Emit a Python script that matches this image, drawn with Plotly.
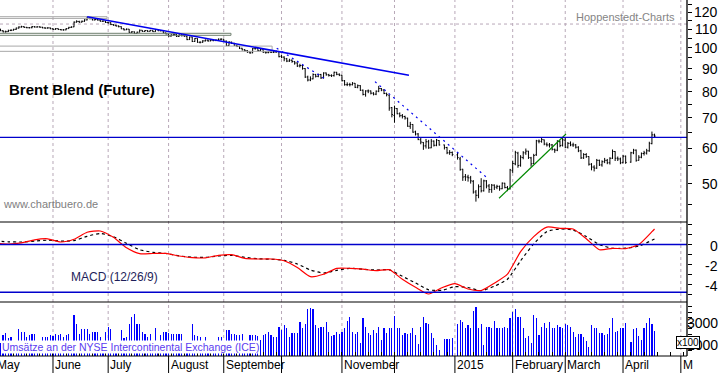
import math
import pandas as pd
import plotly.graph_objects as go

# ---------------- data ----------------
holidays = ["2014-12-25", "2015-01-01", "2015-04-03"]
weekdays = pd.bdate_range("2014-05-01", "2015-04-17")
dates = [d for d in weekdays if d.strftime("%Y-%m-%d") not in holidays]

open_ = [
    # May
    109.8, 109.5, 110.0, 109.1, 108.5, 108.6, 109.3, 109.4, 109.9, 110.6, 111.2, 111.4, 111.0, 110.8, 110.8, 111.4, 111.2, 111.3, 111.1, 110.7, 110.6, 110.7,
    # Jun
    110.2, 109.9, 110.3, 109.8, 109.6, 109.6, 110.3, 111.0, 111.3, 114.0, 114.4, 114.0, 114.5, 115.3, 116.4, 116.0, 115.3, 115.6, 115.2, 114.5, 114.6,
    # Jul
    113.8, 113.7, 112.6, 112.2, 111.8, 111.4, 110.2, 109.6, 110.0, 108.2, 108.5, 107.6, 108.3, 109.4, 108.7, 109.2, 108.8, 109.3, 108.6, 109.8, 109.1, 109.1, 107.9,
    # Aug
    107.3, 106.2, 106.8, 107.0, 106.0, 106.8, 106.4, 106.1, 104.3, 105.7, 103.3, 104.9, 102.9, 102.9, 103.6, 104.0, 103.6, 104.0, 103.8, 104.0, 104.5,
    # Sep
    104.5, 103.5, 101.2, 103.0, 102.3, 101.3, 100.8, 99.8, 99.0, 98.6, 97.9, 97.5, 99.6, 99.7, 98.6, 99.3, 97.8, 97.6, 97.9, 97.8, 97.9, 98.2,
    # Oct
    95.8, 95.4, 94.6, 93.5, 93.9, 93.3, 92.6, 91.2, 91.4, 90.0, 86.2, 84.9, 85.4, 87.3, 86.5, 87.3, 85.8, 88.0, 87.2, 86.9, 86.8, 88.3, 87.4,
    # Nov
    87.0, 84.6, 82.9, 83.0, 82.9, 83.5, 81.8, 82.5, 80.6, 78.9, 80.3, 80.3, 79.4, 79.0, 80.2, 81.3, 80.7, 79.3, 78.6, 73.8,
    # Dec
    70.9, 73.4, 71.5, 70.8, 70.5, 69.9, 67.1, 67.7, 65.2, 64.5, 62.6, 61.8, 60.7, 62.0, 60.1, 62.2, 60.9, 62.4, 61.0, 60.2, 58.6, 58.7,
    # Jan
    58.0, 56.8, 53.9, 51.9, 51.8, 51.6, 50.7, 48.0, 47.2, 49.4, 48.3, 50.8, 49.5, 48.6, 49.7, 49.2, 49.4, 48.8, 50.2, 49.1, 48.8,
    # Feb
    53.5, 55.4, 58.5, 55.0, 57.2, 58.6, 59.1, 57.1, 55.5, 58.0, 62.2, 62.1, 62.6, 61.2, 61.0, 61.0, 59.6, 59.4, 62.0, 60.9,
    # Mar
    62.5, 60.3, 61.5, 61.0, 61.0, 60.3, 59.2, 57.1, 58.1, 57.5, 55.3, 54.5, 54.2, 56.4, 55.1, 56.0, 56.4, 55.7, 57.0, 59.0, 57.0, 56.8,
    # Apr
    55.7, 57.6, 55.9, 58.6, 59.4, 56.4, 57.3, 58.4, 58.5, 59.2, 61.4, 64.2,
]
high = [
    110.2, 110.4, 110.2, 109.4, 109.2, 109.7, 109.9, 110.2, 110.9, 111.6, 111.9, 111.6, 111.3, 111.2, 111.8, 111.7, 111.6, 111.6, 111.3, 111.0, 111.1, 110.9,
    110.5, 110.6, 110.4, 110.1, 110.0, 110.6, 111.3, 111.6, 114.4, 115.1, 114.8, 114.9, 115.7, 117.3, 117.0, 116.3, 116.0, 115.9, 115.4, 115.0, 114.8,
    114.2, 113.9, 112.9, 112.5, 112.1, 111.6, 110.5, 110.4, 110.1, 108.9, 108.7, 108.6, 109.8, 109.5, 109.5, 109.4, 109.6, 109.4, 110.1, 109.9, 109.5, 109.3, 108.1,
    107.5, 107.2, 107.6, 107.3, 107.2, 107.3, 106.8, 106.3, 105.9, 105.8, 105.1, 105.0, 103.4, 104.0, 104.4, 104.3, 104.4, 104.3, 104.4, 104.9, 105.0,
    104.7, 103.8, 103.4, 103.2, 102.6, 101.6, 101.0, 100.0, 99.4, 98.9, 98.3, 99.9, 100.1, 99.8, 99.6, 99.4, 98.3, 98.3, 98.3, 98.4, 98.6, 98.3,
    96.4, 95.8, 95.0, 94.6, 94.3, 93.5, 92.9, 92.2, 91.6, 90.2, 86.8, 86.5, 87.8, 87.6, 87.7, 87.6, 88.3, 88.2, 87.6, 87.4, 88.6, 88.5, 87.8,
    87.2, 84.9, 83.9, 83.7, 84.0, 83.6, 83.0, 82.7, 80.9, 80.6, 80.9, 80.5, 79.8, 80.5, 82.4, 81.5, 80.9, 79.6, 78.8, 74.0,
    74.5, 73.6, 72.0, 71.4, 70.8, 70.1, 68.6, 67.8, 65.6, 64.8, 63.4, 61.9, 62.9, 62.6, 62.9, 62.4, 62.9, 62.5, 61.1, 60.4, 59.4, 59.0,
    58.6, 57.4, 54.0, 52.6, 52.4, 52.1, 51.0, 48.5, 49.9, 51.5, 51.1, 51.0, 50.0, 50.0, 49.9, 49.8, 49.6, 50.4, 50.3, 49.5, 54.0,
    56.3, 59.2, 58.9, 57.9, 59.1, 59.9, 59.2, 57.4, 58.3, 62.6, 62.7, 63.4, 62.7, 61.8, 61.6, 61.3, 59.9, 62.5, 62.4, 63.2,
    63.4, 61.9, 62.1, 61.7, 61.3, 60.6, 59.5, 58.5, 58.5, 57.6, 55.6, 55.0, 56.8, 56.6, 56.4, 57.1, 56.8, 57.3, 59.6, 59.1, 57.5, 57.2,
    58.0, 57.8, 58.9, 59.8, 59.6, 57.9, 58.7, 59.2, 59.8, 62.0, 65.3, 64.6,
]
low = [
    109.1, 109.3, 108.9, 108.2, 108.1, 108.4, 108.9, 109.2, 109.6, 110.3, 110.9, 110.7, 110.5, 110.4, 110.5, 110.9, 110.9, 110.8, 110.5, 110.2, 110.3, 110.0,
    109.6, 109.6, 109.5, 109.3, 109.2, 109.4, 110.1, 110.7, 111.1, 113.7, 113.6, 113.8, 114.2, 115.0, 115.7, 115.0, 115.0, 114.9, 114.3, 114.1, 113.5,
    113.1, 112.3, 111.9, 111.5, 111.0, 110.0, 109.3, 109.5, 107.9, 107.9, 107.3, 107.5, 108.2, 108.5, 108.6, 108.5, 108.7, 108.4, 108.5, 108.9, 108.8, 107.7, 107.1,
    105.9, 105.9, 106.3, 105.7, 105.8, 106.0, 105.8, 104.0, 104.1, 103.0, 103.1, 102.6, 102.3, 102.6, 103.3, 103.2, 103.4, 103.4, 103.5, 103.7, 104.0,
    103.2, 100.9, 101.0, 102.0, 101.0, 100.4, 99.4, 98.7, 98.2, 97.5, 97.0, 97.3, 99.1, 98.3, 98.4, 97.5, 97.1, 97.3, 97.4, 97.4, 97.5, 95.3,
    94.9, 93.4, 93.0, 93.1, 92.7, 91.8, 90.7, 90.5, 89.5, 85.8, 84.3, 84.4, 85.2, 86.0, 86.1, 85.4, 85.6, 86.8, 86.4, 86.2, 86.4, 87.0, 86.6,
    84.3, 82.5, 82.3, 82.2, 82.6, 81.5, 81.4, 80.3, 78.5, 78.0, 79.4, 78.9, 78.5, 78.6, 79.8, 80.2, 79.0, 78.1, 72.6, 70.2,
    68.3, 71.3, 70.2, 69.8, 69.4, 66.9, 66.2, 64.9, 64.0, 62.5, 61.2, 59.5, 59.9, 59.8, 60.0, 60.5, 60.6, 60.8, 59.6, 58.2, 58.0, 57.6,
    56.6, 53.5, 50.8, 50.8, 50.6, 50.1, 47.6, 45.7, 46.5, 47.9, 48.1, 48.9, 47.8, 47.8, 48.5, 48.7, 48.3, 48.7, 48.9, 48.2, 48.6,
    52.9, 55.0, 54.3, 54.6, 56.7, 58.0, 56.8, 54.6, 55.3, 57.7, 61.5, 61.7, 60.9, 60.5, 60.2, 59.3, 58.6, 59.1, 60.3, 60.5,
    60.0, 59.9, 60.6, 60.4, 59.9, 58.8, 56.8, 56.8, 57.1, 54.9, 53.6, 53.3, 54.0, 54.8, 54.6, 55.6, 55.3, 55.2, 56.8, 56.2, 56.2, 55.3,
    55.6, 55.4, 55.7, 58.2, 56.0, 56.3, 57.0, 57.8, 58.1, 58.9, 61.2, 63.2,
]
close = [
    109.5, 110.0, 109.1, 108.5, 108.6, 109.3, 109.4, 109.9, 110.6, 111.2, 111.4, 111.0, 110.8, 110.8, 111.4, 111.2, 111.3, 111.1, 110.7, 110.6, 110.7, 110.2,
    109.9, 110.3, 109.8, 109.6, 109.6, 110.3, 111.0, 111.2, 114.0, 114.4, 114.0, 114.5, 115.3, 116.4, 116.0, 115.3, 115.6, 115.2, 114.5, 114.6, 113.8,
    113.7, 112.6, 112.2, 111.8, 111.4, 110.2, 109.6, 110.0, 108.2, 108.5, 107.6, 108.3, 109.4, 108.7, 109.2, 108.8, 109.3, 108.6, 109.8, 109.1, 109.1, 107.9, 107.4,
    106.2, 106.8, 107.0, 106.0, 106.8, 106.4, 106.1, 104.3, 105.7, 103.3, 104.9, 102.9, 102.9, 103.6, 104.0, 103.6, 104.0, 103.8, 104.0, 104.5, 104.5,
    103.5, 101.2, 103.0, 102.3, 101.3, 100.8, 99.8, 99.0, 98.6, 97.9, 97.5, 99.6, 99.7, 98.6, 99.3, 97.8, 97.6, 97.9, 97.8, 97.9, 98.2, 95.6,
    95.4, 94.6, 93.5, 93.9, 93.3, 92.6, 91.2, 91.4, 90.0, 86.2, 84.9, 85.4, 87.3, 86.5, 87.3, 85.8, 88.0, 87.2, 86.9, 86.8, 88.3, 87.4, 87.0,
    84.6, 82.9, 83.0, 82.9, 83.5, 81.8, 82.5, 80.6, 78.9, 80.3, 80.3, 79.4, 79.0, 80.2, 81.3, 80.7, 79.3, 78.8, 73.6, 71.2,
    73.5, 71.5, 70.8, 70.5, 70.0, 67.1, 67.7, 65.1, 64.5, 62.7, 61.9, 60.7, 62.0, 60.1, 62.2, 60.9, 62.5, 61.0, 60.2, 58.6, 58.7, 58.1,
    57.2, 53.8, 51.8, 51.8, 51.6, 50.8, 48.0, 47.2, 49.3, 48.3, 50.8, 49.5, 48.6, 49.7, 49.2, 49.4, 48.8, 50.2, 49.1, 48.8, 53.7,
    55.5, 58.7, 54.9, 57.3, 58.6, 59.1, 57.2, 55.4, 57.8, 62.3, 62.2, 62.7, 61.3, 61.0, 61.0, 59.7, 59.4, 62.1, 60.8, 62.6,
    60.3, 61.5, 61.0, 61.0, 60.3, 59.2, 57.1, 58.1, 57.5, 55.3, 54.5, 54.2, 56.4, 55.1, 56.0, 56.4, 55.7, 57.0, 59.0, 57.0, 56.8, 55.7,
    57.6, 55.8, 58.6, 59.4, 56.4, 57.3, 58.4, 58.6, 59.2, 61.5, 64.2, 63.8,
]
# volume in units of 100 contracts
volume = [
    1300, 1250, 1200, 1910, 2060, 1670, 1760, 1250, 1300, 2450, 2210, 2150, 1760, 1910, 2000, 2000, 1250, 1300, 1760, 1700, 1760, 1910,
    1850, 2000, 1910, 2000, 1760, 1910, 2000, 1250, 3730, 2910, 2000, 2450, 2450, 2450, 2000, 2210, 2210, 2210, 1760, 1200, 2210,
    2610, 2450, 1300, 1250, 1300, 2360, 1610, 1760, 2910, 3520, 3820, 2910, 2910, 2210, 2000, 1760, 2000, 1250, 2520, 1300, 1910, 2210, 2210,
    2060, 2000, 2000, 2000, 2000, 2000, 1250, 1300, 1200, 2910, 1910, 1850, 1760, 1250, 1760, 1200, 1300, 1250, 1200, 1760, 1760,
    1300, 2360, 2360, 2000, 2000, 1910, 1910, 2000, 1300, 1250, 1910, 1910, 1910, 1850, 1450, 1910, 2000, 2210, 1910, 1700, 1700, 2610,
    2360, 2820, 2520, 1700, 2060, 2060, 2060, 3060, 2520, 2910, 4270, 4390, 4270, 2820, 2520, 2610, 2610, 3060, 2150, 1850, 1910, 2210, 1970,
    2150, 2520, 3210, 3520, 2210, 2000, 2150, 1150, 3420, 2670, 2060, 1910, 2360, 2060, 2670, 1450, 2520, 2060, 2520, 2580,
    3670, 2520, 2520, 1910, 2060, 1970, 2060, 2580, 1910, 1090, 2670, 3520, 2970, 2910, 2120, 1670, 1000, 550, 1550, 1550, 1550, 1610,
    2910, 3270, 3120, 2520, 2820, 2520, 4090, 4460, 2520, 2910, 1000, 2670, 2670, 2520, 3180, 2520, 2520, 2520, 2670, 2520, 3420,
    4030, 4240, 3520, 3520, 2520, 1610, 1850, 1150, 3730, 3420, 1910, 2670, 2970, 2580, 3060, 2580, 2580, 2820, 2610, 2520,
    2880, 2820, 2670, 2210, 1760, 1970, 1970, 1760, 1360, 850, 2820, 2520, 2580, 2060, 2060, 1910, 1970, 2580, 3420, 2210, 2270, 2520,
    2580, 2970, 1300, 2420, 2580, 1850, 1450, 2520, 2970, 3490, 2910, 2300,
]

# MACD (12/26/9)
macd_dates = list(pd.date_range("2014-05-01", "2015-04-16", freq="7D")) + [pd.Timestamp("2015-04-17")]
macd = [0.12, 0.05, 0.16, 0.47, 0.57, 0.25, 0.52, 1.22, 1.35, 0.72, -0.33, -0.92, -0.90, -0.89, -1.15, -1.32,
        -1.33, -1.08, -1.02, -1.38, -1.45, -1.45, -1.63, -2.31, -3.22, -2.98, -2.38, -2.38, -2.47, -2.62, -2.52,
        -3.48, -4.28, -4.95, -4.33, -3.92, -4.45, -4.60, -3.87, -2.96, -0.72, 0.79, 1.74, 1.62, 1.55, 0.58,
        -0.52, -0.38, -0.42, 0.00, 1.28, 1.55]
signal = [0.35, 0.27, 0.25, 0.34, 0.43, 0.34, 0.39, 0.82, 1.10, 0.78, 0.12, -0.53, -0.78, -0.90, -1.14, -1.27,
          -1.28, -1.15, -1.08, -1.28, -1.43, -1.47, -1.58, -1.95, -2.55, -2.85, -2.58, -2.38, -2.47, -2.55, -2.54,
          -3.18, -3.85, -4.53, -4.58, -4.22, -4.30, -4.62, -4.17, -3.47, -1.63, 0.06, 1.29, 1.55, 1.45, 0.80,
          0.00, -0.38, -0.37, -0.16, 0.42, 0.55]

month_starts = ["2014-05-01", "2014-06-02", "2014-07-01", "2014-08-01", "2014-09-01", "2014-10-01",
                "2014-11-03", "2014-12-01", "2015-01-01", "2015-02-02", "2015-03-02", "2015-04-01", "2015-05-01"]
month_labels = ["May", "June", "July", "August", "September", "", "November", "", "2015",
                "February", "March", "April", "M"]

price_ticks = [45, 50, 55, 60, 65, 70, 75, 80, 85, 90, 95, 100, 105, 110, 115, 120, 125]
price_labels = [50, 60, 70, 80, 90, 100, 110, 120]
macd_ticks = [-5, -4, -3, -2, -1, 0, 1, 2]
macd_labels = [0, -2, -4]
vol_ticks = [500, 1000, 1500, 2000, 2500, 3000, 3500, 4000, 4500]
vol_labels = [3000, 1000]

# trend / marker lines (date, price)
trend_main = (["2014-06-19", "2014-12-08 12:00"], [117.2, 86.95])
trend_dash1 = (["2014-09-29 04:00", "2014-10-24 05:00"], [99.8, 84.9])
trend_dash2 = (["2014-11-19 14:00", "2015-01-19 02:00"], [84.2, 51.7])
trend_green = (["2015-01-23 19:00", "2015-03-02 07:00"], [46.5, 64.5])
resistance = 63.4
hgrid_price = 112.9
boxes = [  # (end date, low, high, colour)
    ("2014-06-30 14:00", 116.2, 117.2, "#a8a8a8"),
    ("2014-09-03 18:00", 106.6, 107.7, "#6f7f6f"),
    ("2014-09-25 10:00", 98.25, 100.9, "#a8a8a8"),
]
macd_levels = [0.0, -4.78]

# ---------------- geometry ----------------
W, H = 723, 373
ML, MR, MT, MB = 0, 36, 0, 17
PW, PH = W - ML - MR, H - MT - MB  # 687 x 356


def py(px):  # pixel y from top -> paper
    return (PH - px) / PH


def pxx(px):
    return px / PW


x_range = ["2014-05-02 19:51", "2015-05-05 08:24"]
GRID = "#b8a8b8"

fig = go.Figure()

fig.add_trace(go.Bar(
    x=dates, y=volume, yaxis="y3", marker=dict(color="#0000ff", line=dict(width=0)),
    width=0.45 * 86400000, hoverinfo="skip"))

fig.add_trace(go.Ohlc(
    x=dates, open=open_, high=high, low=low, close=close, yaxis="y",
    increasing=dict(line=dict(color="black", width=1)),
    decreasing=dict(line=dict(color="black", width=1)),
    tickwidth=0.4, hoverinfo="skip"))

fig.add_trace(go.Scatter(
    x=macd_dates, y=signal, yaxis="y2", mode="lines",
    line=dict(color="black", width=1.2, dash="3px,3px", shape="spline", smoothing=0.6), hoverinfo="skip"))
fig.add_trace(go.Scatter(
    x=macd_dates, y=macd, yaxis="y2", mode="lines",
    line=dict(color="#ff0000", width=1.2, shape="spline", smoothing=0.6), hoverinfo="skip"))

shapes = []
# vertical dashed month grid lines + solid ticks below the axis
for d in month_starts:
    shapes.append(dict(type="line", xref="x", yref="paper", x0=d, x1=d, y0=0, y1=1,
                       line=dict(color=GRID, width=1, dash="3px,3px"), layer="below"))
    shapes.append(dict(type="line", xref="x", yref="paper", x0=d, x1=d, y0=py(373), y1=0,
                       line=dict(color="black", width=1)))
# horizontal dashed grid line in price panel
shapes.append(dict(type="line", xref="paper", yref="y", x0=0, x1=1, y0=hgrid_price, y1=hgrid_price,
                   line=dict(color=GRID, width=1, dash="3px,3px"), layer="below"))
# grey boxes
for end, lo, hi, col in boxes:
    shapes.append(dict(type="rect", xref="x", yref="y", x0="2014-04-01", x1=end, y0=lo, y1=hi,
                       line=dict(color=col, width=1), fillcolor="rgba(0,0,0,0)"))
# trend lines
shapes.append(dict(type="line", xref="x", yref="y", x0=trend_main[0][0], x1=trend_main[0][1],
                   y0=trend_main[1][0], y1=trend_main[1][1], line=dict(color="#0000ee", width=1.6)))
for t in (trend_dash1, trend_dash2):
    shapes.append(dict(type="line", xref="x", yref="y", x0=t[0][0], x1=t[0][1], y0=t[1][0], y1=t[1][1],
                       line=dict(color="#0000ee", width=1.2, dash="2px,4px")))
shapes.append(dict(type="line", xref="x", yref="y", x0=trend_green[0][0], x1=trend_green[0][1],
                   y0=trend_green[1][0], y1=trend_green[1][1], line=dict(color="#008800", width=1.1)))
shapes.append(dict(type="line", xref="paper", yref="y", x0=0, x1=1, y0=resistance, y1=resistance,
                   line=dict(color="#0000cc", width=1.4)))
# MACD level lines
for lv in macd_levels:
    shapes.append(dict(type="line", xref="paper", yref="y2", x0=0, x1=1, y0=lv, y1=lv,
                       line=dict(color="#0000cc", width=1.4)))
# panel separators, bottom axis and right axis
for yy in (222, 302, 356):
    shapes.append(dict(type="line", xref="paper", yref="paper", x0=0, x1=1, y0=py(yy), y1=py(yy),
                       line=dict(color="black", width=1)))
shapes.append(dict(type="line", xref="paper", yref="paper", x0=1, x1=1, y0=0, y1=1,
                   line=dict(color="black", width=1.3)))

annotations = []
TICKFONT = dict(family="Arial, Liberation Sans, sans-serif", size=14, color="black")
for v in price_labels:
    annotations.append(dict(xref="paper", yref="y", x=pxx(720), y=math.log10(v), text=str(v),
                            xanchor="right", yanchor="middle", showarrow=False, font=TICKFONT))
for v in macd_labels:
    annotations.append(dict(xref="paper", yref="y2", x=pxx(720), y=v, text=str(v), yshift=-1,
                            xanchor="right", yanchor="middle", showarrow=False, font=TICKFONT))
for v in vol_labels:
    annotations.append(dict(xref="paper", yref="y3", x=pxx(720), y=v, text=str(v),
                            xanchor="right", yanchor="middle", showarrow=False, font=TICKFONT))
annotations.append(dict(xref="paper", yref="paper", x=pxx(699.5), y=py(349), text="x100",
                        showarrow=False, font=dict(family="Arial", size=10, color="black"),
                        bgcolor="white", bordercolor="black", borderwidth=1, borderpad=0))
MONTHFONT = dict(family="Arial, Liberation Sans, sans-serif", size=12, color="black")
for d, lab in zip(month_starts, month_labels):
    if not lab:
        continue
    if d == month_starts[0]:
        # first month line lies just left of the visible area; place label in paper units
        annotations.append(dict(xref="paper", yref="paper", x=pxx(-4.8), y=py(365), text=lab,
                                xanchor="left", yanchor="middle", showarrow=False, font=MONTHFONT))
    else:
        annotations.append(dict(xref="x", yref="paper", x=d, y=py(365), text=lab, xanchor="left",
                                yanchor="middle", showarrow=False, font=MONTHFONT))
annotations += [
    dict(xref="paper", yref="paper", x=pxx(7), y=py(90), text="<b>Brent Blend (Future)</b>",
         xanchor="left", yanchor="middle", showarrow=False,
         font=dict(family="Arial, Liberation Sans, sans-serif", size=15, color="black")),
    dict(xref="paper", yref="paper", x=pxx(677), y=py(17.5), text="Hoppenstedt-Charts",
         xanchor="right", yanchor="middle", showarrow=False,
         font=dict(family="Arial, Liberation Sans, sans-serif", size=11, color="#858585")),
    dict(xref="paper", yref="paper", x=pxx(1), y=py(204), text="www.chartbuero.de",
         xanchor="left", yanchor="middle", showarrow=False,
         font=dict(family="Arial, Liberation Sans, sans-serif", size=11, color="#808080")),
    dict(xref="paper", yref="paper", x=pxx(69), y=py(277), text="MACD (12/26/9)",
         xanchor="left", yanchor="middle", showarrow=False,
         font=dict(family="Arial, Liberation Sans, sans-serif", size=12, color="#1e1e5a")),
    dict(xref="paper", yref="paper", x=pxx(1), y=py(347), text="Umsätze an der NYSE Intercontinental Exchange (ICE)",
         xanchor="left", yanchor="middle", showarrow=False, bgcolor="white", borderpad=0,
         font=dict(family="Arial, Liberation Sans, sans-serif", size=10.5, color="#5a3cf0")),
]

mondays = list(pd.date_range("2014-04-28", "2015-05-04", freq="W-MON"))

fig.update_layout(
    width=W, height=H, autosize=False,
    margin=dict(l=ML, r=MR, t=MT, b=MB, pad=0),
    paper_bgcolor="white", plot_bgcolor="white",
    showlegend=False, bargap=0,
    xaxis=dict(type="date", range=x_range, rangebreaks=[dict(bounds=["sat", "mon"])],
               anchor="y3", domain=[0, 1], showgrid=False, zeroline=False, showline=False,
               ticks="inside", ticklen=4, tickcolor="black", tickmode="array", tickvals=mondays,
               showticklabels=False, rangeslider=dict(visible=False), fixedrange=True),
    yaxis=dict(type="log", domain=[py(222), 1], range=[math.log10(41.2), math.log10(127.6)],
               side="right", anchor="x", showgrid=False, zeroline=False, showline=False,
               ticks="outside", ticklen=4, tickcolor="black", tickmode="array", tickvals=price_ticks,
               showticklabels=False),
    yaxis2=dict(domain=[py(302), py(222)], range=[-5.75, 2.25], side="right", anchor="x",
                showgrid=False, zeroline=False, showline=False, ticks="outside", ticklen=4,
                tickcolor="black", tickmode="array", tickvals=macd_ticks, showticklabels=False),
    yaxis3=dict(domain=[0, py(302)], range=[0, 4909], side="right", anchor="x",
                showgrid=False, zeroline=False, showline=False, ticks="outside", ticklen=4,
                tickcolor="black", tickmode="array", tickvals=vol_ticks, showticklabels=False),
    shapes=shapes, annotations=annotations,
)

fig.write_html("out.html", config={"displayModeBar": False, "staticPlot": True},
               post_script="document.body.style.margin='0px';document.body.style.overflow='hidden';")
